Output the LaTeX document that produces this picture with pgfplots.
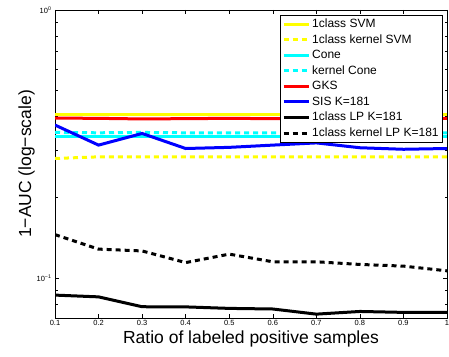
\documentclass[border=0pt]{standalone}
\usepackage{pgfplots}
\pgfplotsset{compat=1.18}
\usepackage{fontspec}
\setmainfont{Liberation Sans}
\definecolor{myyellow}{rgb}{1,1,0}
\definecolor{mycyan}{rgb}{0,1,1}
\definecolor{myred}{rgb}{1,0,0}
\definecolor{myblue}{rgb}{0,0,1}
\begin{document}
\begin{tikzpicture}
\path[use as bounding box] (0,0) rectangle (449pt,356pt);
\begin{axis}[
  at={(55pt,38pt)}, anchor=south west,
  scale only axis, width=392pt, height=308pt,
  ymode=log, xmin=0.1, xmax=1, ymin=0.0708, ymax=1,
  xtick={0.1,0.2,...,1.0},
  xticklabels={0.1,0.2,0.3,0.4,0.5,0.6,0.7,0.8,0.9,1},
  ytick={0.1,1}, yticklabels={10\textsuperscript{−1},10\textsuperscript{0}},
  minor ytick={0.08,0.09,0.2,0.3,0.4,0.5,0.6,0.7,0.8,0.9},
  tick align=inside, tick pos=both,
  major tick length=4pt, minor tick length=2.5pt,
  tick style={black, line width=0.5pt},
  axis line style={line width=0.9pt},
  tick label style={font=\fontsize{7.5}{8}\selectfont},
  x tick label style={yshift=1pt},
  xlabel={Ratio of labeled positive samples},
  ylabel={1−AUC (log−scale)},
  label style={font=\fontsize{17.5}{18}\selectfont},
  xlabel style={yshift=2pt},
  ylabel style={yshift=-5pt},
  legend style={at={(0.99,0.985)}, anchor=north east, draw=black, line width=0.9pt,
    font=\fontsize{12}{13.6}\selectfont, row sep=1.5pt, inner xsep=2pt, inner ysep=2pt,
    legend cell align=left},
  legend image code/.code={\draw[#1, line width=3pt] (0pt,0pt) -- (25pt,0pt);},
  every axis plot/.append style={line width=3pt},
  mydash/.style={dash pattern=on 5pt off 4pt},
]
\addplot[myyellow] coordinates {(0.1,0.408)(0.2,0.408)(0.3,0.408)(0.4,0.408)(0.5,0.408)(0.6,0.408)(0.7,0.408)(0.8,0.408)(0.9,0.408)(1,0.408)};
\addlegendentry{1class SVM}
\addplot[myyellow, mydash] coordinates {(0.1,0.279)(0.2,0.283)(0.3,0.283)(0.4,0.283)(0.5,0.283)(0.6,0.283)(0.7,0.283)(0.8,0.283)(0.9,0.283)(1,0.283)};
\addlegendentry{1class kernel SVM}
\addplot[mycyan] coordinates {(0.1,0.336)(0.2,0.336)(0.3,0.336)(0.4,0.336)(0.5,0.336)(0.6,0.336)(0.7,0.336)(0.8,0.336)(0.9,0.336)(1,0.336)};
\addlegendentry{Cone}
\addplot[mycyan, mydash] coordinates {(0.1,0.349)(0.2,0.348)(0.3,0.349)(0.4,0.348)(0.5,0.348)(0.6,0.348)(0.7,0.348)(0.8,0.348)(0.9,0.348)(1,0.348)};
\addlegendentry{kernel Cone}
\addplot[myred] coordinates {(0.1,0.395)(0.2,0.394)(0.3,0.392)(0.4,0.393)(0.5,0.394)(0.6,0.393)(0.7,0.393)(0.8,0.394)(0.9,0.394)(1,0.394)};
\addlegendentry{GKS}
\addplot[myblue] coordinates {(0.1,0.372)(0.2,0.313)(0.3,0.346)(0.4,0.304)(0.5,0.307)(0.6,0.313)(0.7,0.319)(0.8,0.306)(0.9,0.302)(1,0.304)};
\addlegendentry{SIS K=181}
\addplot[black] coordinates {(0.1,0.0862)(0.2,0.0849)(0.3,0.0780)(0.4,0.0779)(0.5,0.0769)(0.6,0.0765)(0.7,0.0732)(0.8,0.0749)(0.9,0.0743)(1,0.0743)};
\addlegendentry{1class LP K=181}
\addplot[black, mydash] coordinates {(0.1,0.145)(0.2,0.128)(0.3,0.126)(0.4,0.114)(0.5,0.1226)(0.6,0.1148)(0.7,0.1148)(0.8,0.1122)(0.9,0.1106)(1,0.1062)};
\addlegendentry{1class kernel LP K=181}
\end{axis}
\end{tikzpicture}
\end{document}
